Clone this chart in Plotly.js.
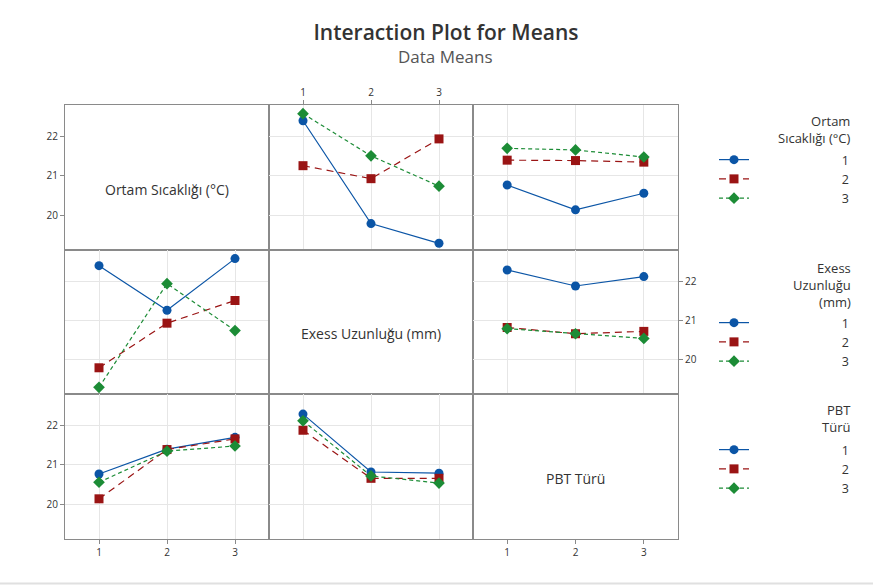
<!DOCTYPE html>
<html>
<head>
<meta charset="utf-8">
<script src="https://cdn.plot.ly/plotly-3.0.1.min.js"></script>
<style>
html,body{margin:0;padding:0;background:#fff;}
#chart{width:873px;height:585px;}
</style>
</head>
<body>
<div id="chart"></div>
<script>
// Factor names and levels
const factorNames = ["Ortam Sıcaklığı (°C)", "Exess Uzunluğu (mm)", "PBT Türü"];
const legendTitles = ["Ortam<br>Sıcaklığı (°C)", "Exess<br>Uzunluğu<br>(mm)", "PBT<br>Türü"];
const levels = [1, 2, 3];
const levelLabels = ["1", "2", "3"];
const yTicks = [20, 21, 22];

// Cell means (rows: first factor level, columns: second factor level)
const ortamByExess = [
  [22.40, 19.79, 19.29],
  [21.26, 20.93, 21.94],
  [22.58, 21.51, 20.74]
];
const ortamByPbt = [
  [20.77, 20.14, 20.56],
  [21.40, 21.39, 21.35],
  [21.70, 21.66, 21.48]
];
const exessByPbt = [
  [22.29, 21.88, 22.12],
  [20.82, 20.66, 20.72],
  [20.79, 20.66, 20.54]
];

const colors = ["#0b55a6", "#9a1414", "#1c8c36"];
const symbols = ["circle", "square", "diamond"];
const sizes = [9, 9, 9];
const dashes = ["solid", "7px,5px", "4px,3px"];

function transpose(m){ return m[0].map((_, j) => m.map(r => r[j])); }

function cellMatrix(r, c){
  if (r === 0 && c === 1) return ortamByExess;
  if (r === 0 && c === 2) return ortamByPbt;
  if (r === 1 && c === 0) return transpose(ortamByExess);
  if (r === 1 && c === 2) return exessByPbt;
  if (r === 2 && c === 0) return transpose(ortamByPbt);
  if (r === 2 && c === 1) return transpose(exessByPbt);
  return null;
}

const W = 873, H = 585;
const colPx = [[65,269],[269,473],[473,678]];
const rowPx = [[105,250],[250,394],[394,539]];
const yRange = [19.12, 22.8];
const xRange = [0.5, 3.5];

const data = [];
const layout = {
  width: W, height: H,
  margin: {l:0, r:0, t:0, b:0},
  paper_bgcolor: "#fff", plot_bgcolor: "#fff",
  font: {family: "Open Sans, Noto Sans, sans-serif", color: "#333"},
  title: {text: "Interaction Plot for Means", x: 446/W, xanchor: "center", y: 1-33/H, yanchor: "middle",
          font: {size: 21, color: "#333", weight: 600}},
  showlegend: true,
  annotations: [],
  shapes: []
};

layout.annotations.push({text: "Data Means", xref: "paper", yref: "paper", x: 446/W, y: 1-57/H,
  xanchor: "center", yanchor: "middle", showarrow: false, font: {size: 17, color: "#555"}});

const legendNames = ["legend", "legend2", "legend3"];
const legendTopPx = [145, 308, 435];
const titleTopPx = [110, 257, 399];
for (let r = 0; r < 3; r++){
  layout[legendNames[r]] = {
    x: 714/W, xanchor: "left", y: 1-legendTopPx[r]/H, yanchor: "top",
    bgcolor: "rgba(0,0,0,0)", borderwidth: 0,
    font: {size: 12.5, color: "#333"}, tracegroupgap: 0, itemclick: false, itemdoubleclick: false
  };
  layout.annotations.push({text: legendTitles[r], xref: "paper", yref: "paper", x: 853/W, y: 1-titleTopPx[r]/H,
    xanchor: "right", yanchor: "top", align: "right", showarrow: false, font: {size: 13, color: "#333"}});
}

let idx = 0;
for (let r = 0; r < 3; r++){
  for (let c = 0; c < 3; c++){
    idx++;
    const xa = "xaxis" + (idx === 1 ? "" : idx);
    const ya = "yaxis" + (idx === 1 ? "" : idx);
    const xr = "x" + (idx === 1 ? "" : idx);
    const yr = "y" + (idx === 1 ? "" : idx);
    const diag = (r === c);
    const showXTop = (r === 0 && c === 1);
    const showXBottom = (r === 2 && (c === 0 || c === 2));
    const showYLeft = (c === 0 && (r === 0 || r === 2));
    const showYRight = (c === 2 && r === 1);
    layout[xa] = {
      domain: [colPx[c][0]/W, colPx[c][1]/W], anchor: yr, range: xRange,
      tickvals: levels, ticktext: levelLabels,
      showgrid: !diag, gridcolor: "#e6e6e6", gridwidth: 1, zeroline: false,
      showline: true, mirror: true, linecolor: "#8a8a8a", linewidth: 1,
      side: showXTop ? "top" : "bottom",
      ticks: (showXTop || showXBottom) ? "outside" : "", ticklen: 4, tickcolor: "#8a8a8a",
      showticklabels: showXTop || showXBottom, tickfont: {size: 10, color: "#333"}, fixedrange: true
    };
    layout[ya] = {
      domain: [1-rowPx[r][1]/H, 1-rowPx[r][0]/H], anchor: xr, range: yRange,
      tickvals: yTicks,
      showgrid: !diag, gridcolor: "#e6e6e6", gridwidth: 1, zeroline: false,
      showline: true, mirror: true, linecolor: "#8a8a8a", linewidth: 1,
      side: showYRight ? "right" : "left",
      ticks: (showYLeft || showYRight) ? "outside" : "", ticklen: 4, tickcolor: "#8a8a8a",
      showticklabels: showYLeft || showYRight, tickfont: {size: 10, color: "#333"}, fixedrange: true
    };
    if (diag){
      layout.annotations.push({text: factorNames[r], xref: xr + " domain", yref: yr + " domain",
        x: 0.5, y: 0.42, showarrow: false, font: {size: 14, color: "#333"}});
      // empty trace so the diagonal subplot frame is drawn
      data.push({type: "scatter", mode: "markers", x: [], y: [], xaxis: xr, yaxis: yr,
        showlegend: false, hoverinfo: "skip"});
      continue;
    }
    const m = cellMatrix(r, c);
    const legendShown = (r === 0 && c === 1) || (r === 1 && c === 0) || (r === 2 && c === 0);
    for (let k = 0; k < 3; k++){
      data.push({
        type: "scatter", mode: "lines+markers", x: levels, y: m[k],
        xaxis: xr, yaxis: yr,
        name: "\u00A0".repeat(27) + levelLabels[k],
        legend: legendNames[r], showlegend: legendShown,
        line: {color: colors[k], width: 1.2, dash: dashes[k]},
        marker: {color: colors[k], symbol: symbols[k], size: sizes[k]},
        hoverinfo: "x+y"
      });
    }
  }
}

layout.shapes.push({type: "line", xref: "paper", yref: "paper", x0: 0, x1: 1, y0: 1-583.5/H, y1: 1-583.5/H,
  line: {color: "#e0e0e0", width: 2}});

Plotly.newPlot("chart", data, layout, {displayModeBar: false, staticPlot: true});
</script>
</body>
</html>
